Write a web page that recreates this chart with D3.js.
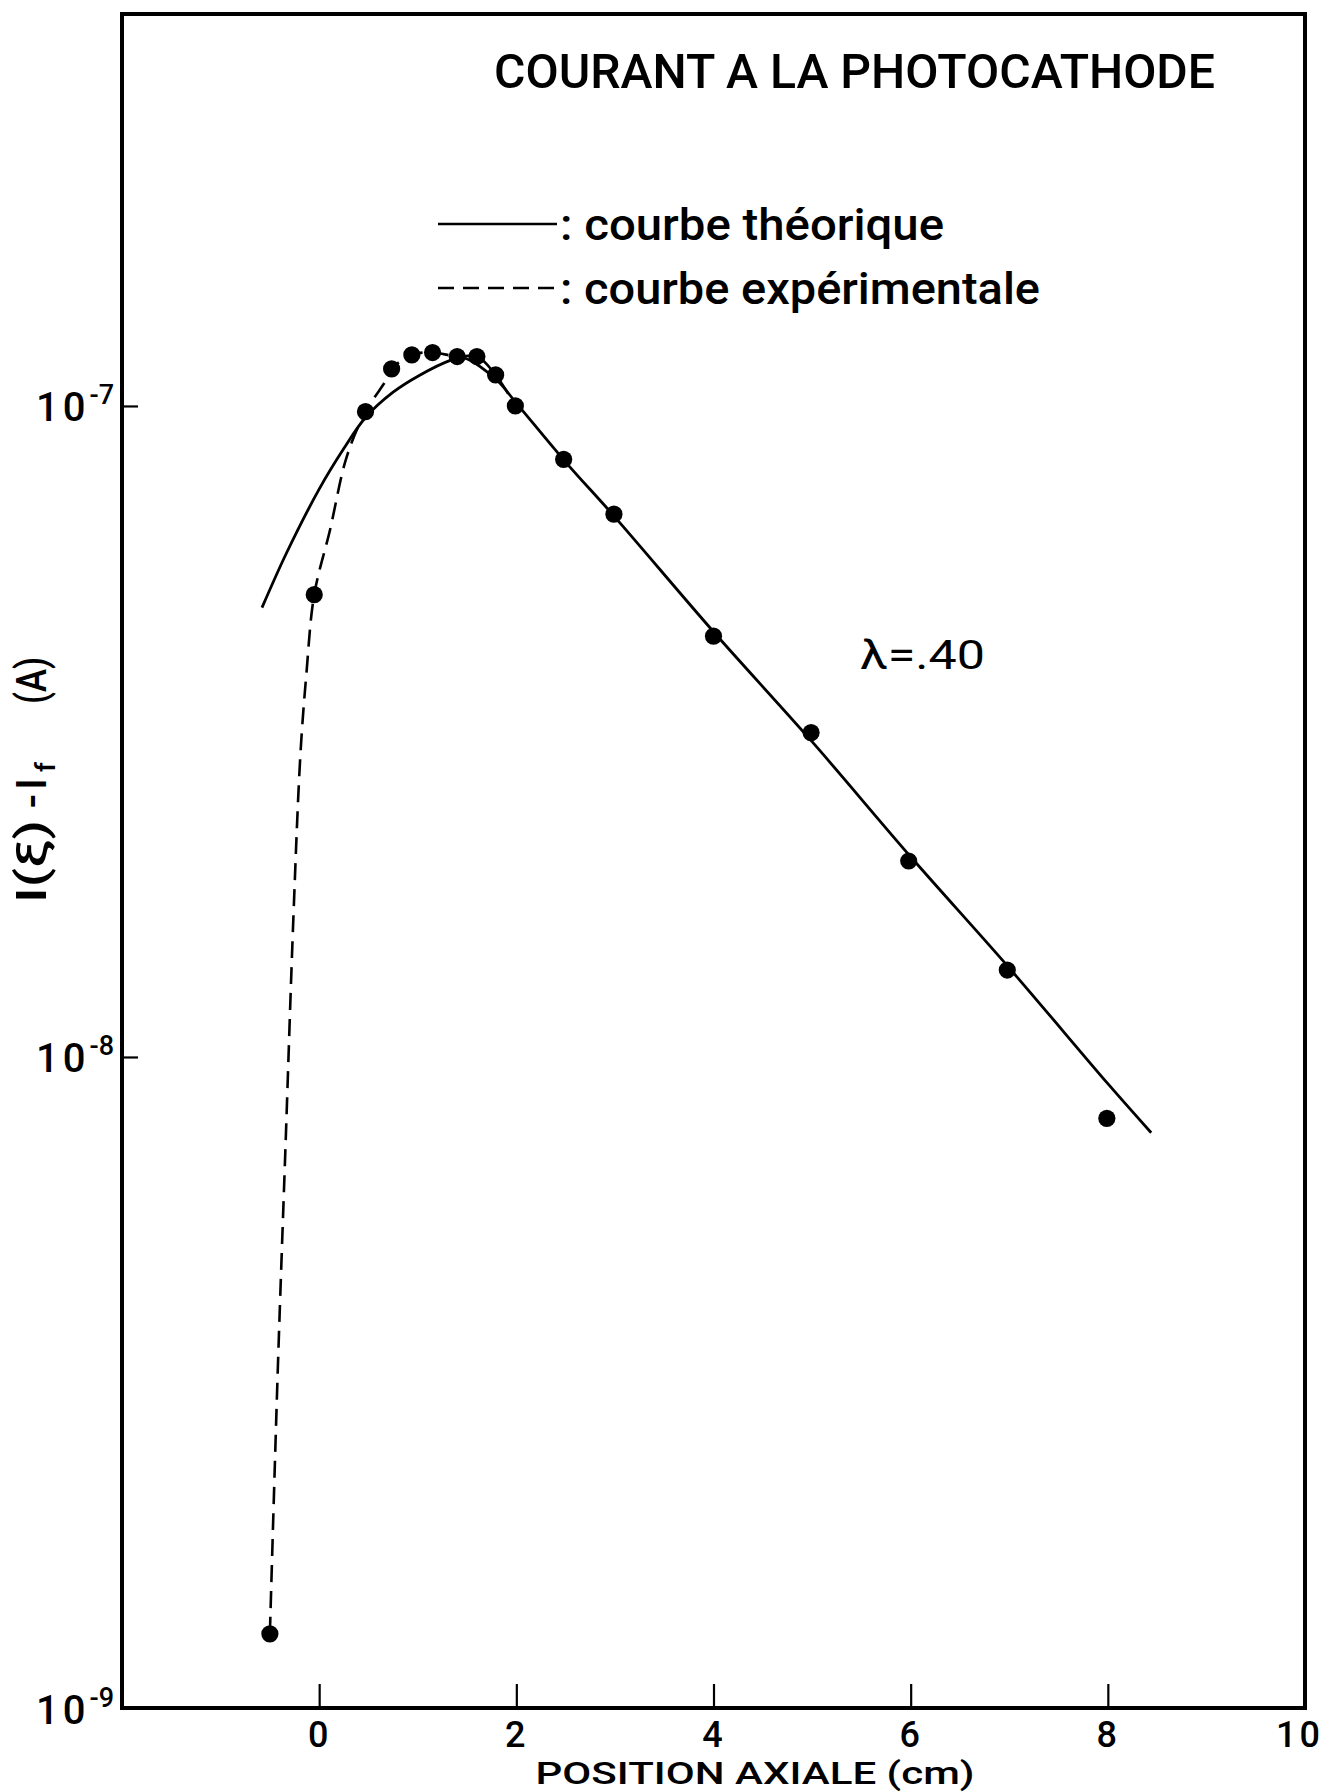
<!DOCTYPE html>
<html>
<head>
<meta charset="utf-8">
<script src="https://cdn.jsdelivr.net/npm/d3@7"></script>
<style>
  html, body { margin: 0; padding: 0; background: #fff; }
  svg { display: block; }
  text { font-family: Roboto, "Liberation Sans", Arial, sans-serif; font-weight: 500; fill: #000; }
</style>
</head>
<body>
<svg id="chart" width="1325" height="1792"></svg>
<script>
// Measured points (position in cm, current in A)
const measX = [-0.5, -0.05, 0.47, 0.735, 0.94, 1.15, 1.40, 1.60, 1.79, 1.99, 2.48, 2.99, 4.0, 4.99, 5.98, 6.98, 7.99];
const measY = [1.3e-9, 5.13e-8, 9.8e-8, 1.14e-7, 1.198e-7, 1.208e-7, 1.191e-7, 1.191e-7, 1.116e-7, 1.0e-7, 8.28e-8, 6.82e-8, 4.43e-8, 3.15e-8, 2.0e-8, 1.36e-8, 8.05e-9];

// Experimental curve (dashed) drawn through the measurements
const expX = [-0.5, -0.42, -0.34, -0.26, -0.19, -0.13, -0.05, 0.11, 0.28, 0.47, 0.68, 0.735, 0.94, 1.15, 1.40, 1.60, 1.79, 1.99];
const expY = [1.3e-9, 3.3e-9, 7.4e-9, 1.66e-8, 2.92e-8, 3.87e-8, 5.13e-8, 6.45e-8, 8.36e-8, 9.8e-8, 1.096e-7, 1.14e-7, 1.198e-7, 1.208e-7, 1.191e-7, 1.191e-7, 1.116e-7, 1.0e-7];

// Theoretical curve (solid)
const theoX = [-0.58, -0.33, 0.0, 0.25, 0.47, 0.75, 1.02, 1.33, 1.45, 1.8, 2.0, 2.5, 3, 4, 5, 6, 7, 8, 8.44];
const theoY = [4.9e-8, 5.95e-8, 7.45e-8, 8.6e-8, 9.6e-8, 1.05e-7, 1.115e-7, 1.175e-7, 1.187e-7, 1.096e-7, 1.01e-7, 8.2e-8, 6.75e-8, 4.5e-8, 3.05e-8, 2.03e-8, 1.37e-8, 9.1e-9, 7.65e-9];

// Axes
const xTicks = [0, 2, 4, 6, 8, 10];
const yTicks = [1e-9, 1e-8, 1e-7];
const yExponents = ["-9", "-8", "-7"];
const xDomain = [-2, 10];
const yDomain = [1e-9, 4e-7];

// Texts
const titleText = "COURANT A LA PHOTOCATHODE";
const legendLabels = [": courbe théorique", ": courbe expérimentale"];
const lambdaText = "λ=.40";
const xTitle = "POSITION AXIALE (cm)";

const svg = d3.select("#chart");
const plotLeft = 122, plotRight = 1305, plotTop = 14, plotBottom = 1708;
const fontStack = "Roboto, 'Liberation Sans', Arial, sans-serif";

const x = d3.scaleLinear().domain(xDomain).range([plotLeft, plotRight]);
const y = d3.scaleLog().domain(yDomain).range([plotBottom, plotTop]);

// Frame
svg.append("rect")
  .attr("x", plotLeft).attr("y", plotTop)
  .attr("width", plotRight - plotLeft).attr("height", plotBottom - plotTop)
  .attr("fill", "none").attr("stroke", "#000").attr("stroke-width", 4);

// X axis: inward ticks, labels below
const xAxis = d3.axisBottom(x)
  .tickValues(xTicks)
  .tickSizeInner(-24).tickSizeOuter(0)
  .tickPadding(0)
  .tickFormat(d3.format("d"));
const gx = svg.append("g").attr("transform", `translate(0,${plotBottom})`).call(xAxis);
gx.select(".domain").remove();
gx.selectAll(".tick line").attr("stroke", "#000").attr("stroke-width", 2.2);
gx.selectAll(".tick text")
  .attr("y", 39).attr("dy", 0)
  .attr("font-size", 36)
  .style("font-family", fontStack)
  .style("font-weight", 500)
  .style("letter-spacing", "3px")
  .attr("fill", "#000");
gx.selectAll(".tick").filter(d => d === 10).select("line").remove();
gx.selectAll(".tick").filter(d => d === 10).select("text").attr("x", -6);

// Y axis: inward ticks, power-of-ten labels
const yAxis = d3.axisLeft(y)
  .tickValues(yTicks)
  .tickSizeInner(-16).tickSizeOuter(0)
  .tickPadding(0)
  .tickFormat(() => "");
const gy = svg.append("g").attr("transform", `translate(${plotLeft},0)`).call(yAxis);
gy.select(".domain").remove();
gy.selectAll(".tick line").attr("stroke", "#000").attr("stroke-width", 2.2);
gy.selectAll(".tick").filter(d => d === 1e-9).select("line").remove();
gy.selectAll(".tick text").each(function(d) {
  const t = d3.select(this);
  const i = yTicks.indexOf(d);
  t.text(null)
    .attr("x", -8).attr("dy", 0).attr("y", 15)
    .attr("text-anchor", "end")
    .attr("font-size", 40)
    .style("font-family", fontStack)
    .style("font-weight", 500)
    .attr("fill", "#000");
  t.append("tspan").style("letter-spacing", "4px").text("10");
  t.append("tspan").attr("dy", -17).attr("font-size", 27).text(yExponents[i]);
});

// Y axis title, laid out along the rotated baseline
const yTitle = svg.append("g").attr("transform", "translate(46,0) rotate(-90)")
  .attr("font-size", 42);
yTitle.append("text").attr("x", -903).attr("y", 0)
  .attr("textLength", 83).attr("lengthAdjust", "spacingAndGlyphs")
  .text("I(ξ)");
yTitle.append("text").attr("x", -801).attr("y", 0).attr("text-anchor", "middle")
  .text("-");
const yIf = yTitle.append("text").attr("x", -790).attr("y", 0);
yIf.append("tspan").text("I");
yIf.append("tspan").attr("dx", 6).attr("dy", 9).attr("font-size", 28).text("f");
yTitle.append("text").attr("x", -704).attr("y", 0)
  .attr("textLength", 47).attr("lengthAdjust", "spacingAndGlyphs")
  .text("(A)");

// X axis title
svg.append("text")
  .attr("x", 755).attr("y", 1784)
  .attr("text-anchor", "middle")
  .attr("font-size", 32)
  .attr("textLength", 439).attr("lengthAdjust", "spacingAndGlyphs")
  .text(xTitle);

// Title
svg.append("text")
  .attr("x", 494).attr("y", 88)
  .attr("font-size", 48)
  .attr("textLength", 721).attr("lengthAdjust", "spacingAndGlyphs")
  .text(titleText);

// Legend
const legendY = [224, 288];
const legendDash = [null, "16,9"];
const legendLen = [384, 480];
legendLabels.forEach((lab, i) => {
  svg.append("line")
    .attr("x1", 438).attr("x2", 557)
    .attr("y1", legendY[i]).attr("y2", legendY[i])
    .attr("stroke", "#000").attr("stroke-width", 2.6)
    .attr("stroke-dasharray", legendDash[i]);
  svg.append("text")
    .attr("x", 560).attr("y", legendY[i] + 16)
    .attr("font-size", 44)
    .attr("textLength", legendLen[i]).attr("lengthAdjust", "spacingAndGlyphs")
    .text(lab);
});

// Lambda annotation
svg.append("text")
  .attr("x", 860).attr("y", 669)
  .attr("font-size", 40)
  .style("font-weight", 400)
  .attr("textLength", 125).attr("lengthAdjust", "spacingAndGlyphs")
  .text(lambdaText);

// Curves
const line = d3.line()
  .x(d => x(d[0]))
  .y(d => y(d[1]))
  .curve(d3.curveCatmullRom.alpha(0.5));

svg.append("path")
  .datum(theoX.map((v, i) => [v, theoY[i]]))
  .attr("d", line)
  .attr("fill", "none").attr("stroke", "#000").attr("stroke-width", 2.8);

svg.append("path")
  .datum(expX.map((v, i) => [v, expY[i]]))
  .attr("d", line)
  .attr("fill", "none").attr("stroke", "#000").attr("stroke-width", 2.6)
  .attr("stroke-dasharray", "17,9");

// Measurement dots
svg.append("g").selectAll("circle")
  .data(measX.map((v, i) => [v, measY[i]]))
  .join("circle")
  .attr("cx", d => x(d[0]))
  .attr("cy", d => y(d[1]))
  .attr("r", 8.6)
  .attr("fill", "#000");
</script>
</body>
</html>
